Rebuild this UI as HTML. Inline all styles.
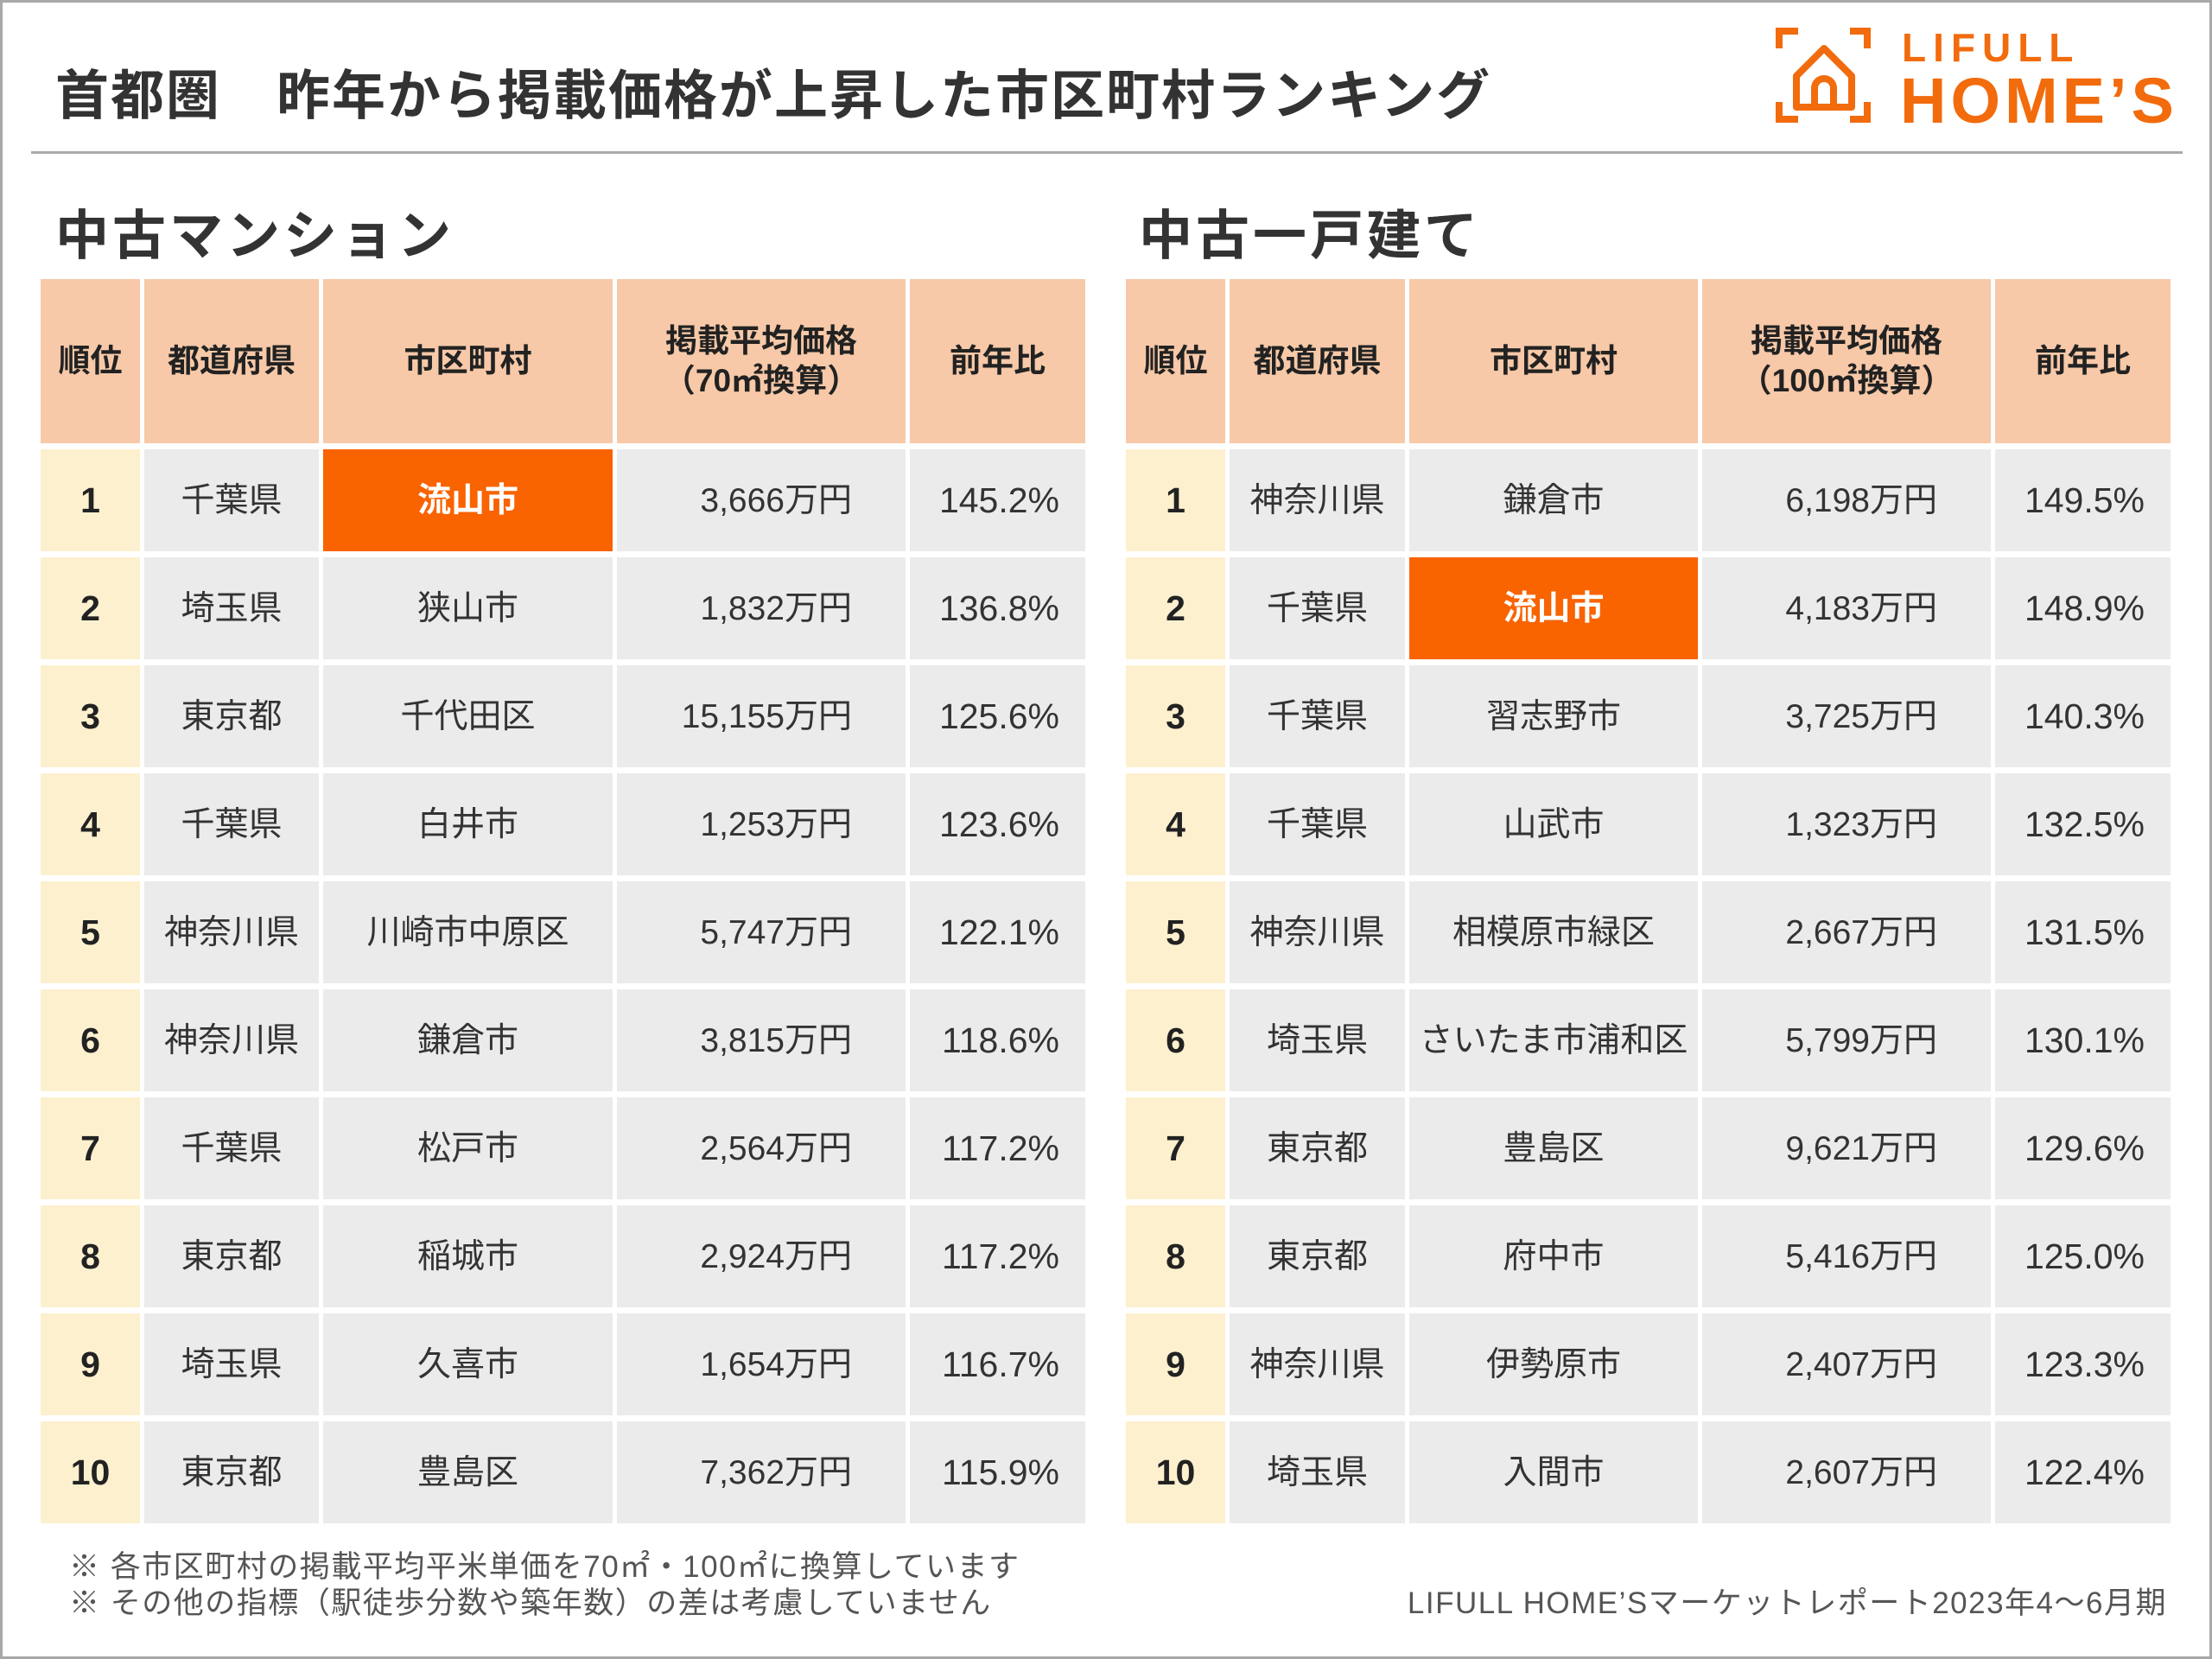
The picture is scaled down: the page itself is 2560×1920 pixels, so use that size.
<!DOCTYPE html>
<html><head><meta charset="utf-8">
<style>
*{margin:0;padding:0;box-sizing:border-box}
body{width:2560px;height:1920px;background:#fff;position:relative;overflow:hidden;font-family:"Liberation Sans","Noto Sans CJK JP",sans-serif;color:#333}
.frame{position:absolute;left:0;top:0;width:2560px;height:1920px;border:3px solid #a8a8a8}
.title{position:absolute;left:64px;top:60px;font-size:62px;font-weight:bold;color:#333;white-space:pre;letter-spacing:2px}
.hr{position:absolute;left:36px;top:175px;width:2490px;height:3px;background:#aaa}
.sec{position:absolute;top:222px;font-size:62px;font-weight:bold;color:#333;letter-spacing:4px}
.tbl{position:absolute;top:323px;display:grid;column-gap:5px;row-gap:7px;grid-template-rows:190px repeat(10,118px)}
.tbl div{display:flex;align-items:center;justify-content:center;font-size:39px;line-height:1;background:#ebebeb;color:#333}
.tbl .h{background:#f7c9a8;font-weight:bold;font-size:37px;text-align:center;line-height:1.25;color:#222}
.tbl .k{background:#fdf0cf;font-weight:bold;font-size:41px;color:#222}
.tbl .p{justify-content:flex-end;padding-right:62px}
.tbl .q{justify-content:flex-end;padding-right:30px;font-size:41px}
.tbl .o{background:#f96300;color:#fff;font-weight:bold}
.fn{position:absolute;font-size:35px;color:#555;white-space:nowrap;letter-spacing:1.5px}
</style></head><body>
<div class="frame"></div>
<div class="title">首都圏　昨年から掲載価格が上昇した市区町村ランキング</div>
<div class="hr"></div>
<svg style="position:absolute;left:2055px;top:32px" width="112" height="112" viewBox="0 0 112 112">
<g fill="none" stroke="#f26b0c" stroke-width="8">
<path d="M4 24V4H26"/><path d="M86 4H106V24"/><path d="M4 86V106H26"/><path d="M86 106H106V86"/>
<path d="M24 92V56L56 24L88 56V92Z" stroke-linejoin="round"/>
<path d="M45 92V70A11 11 0 0 1 67 70V92"/>
</g></svg>
<div style="position:absolute;left:2201px;top:28px;font-size:46px;font-weight:bold;color:#f26b0c;letter-spacing:8px">LIFULL</div>
<div style="position:absolute;left:2199px;top:74px;font-size:74px;font-weight:bold;color:#f26b0c;letter-spacing:5px">HOME’S</div>

<div class="sec" style="left:64px">中古マンション</div>
<div class="sec" style="left:1318px">中古一戸建て</div>

<div class="tbl" style="left:47px;grid-template-columns:115px 202px 335px 334px 203px">
<div class="h">順位</div><div class="h">都道府県</div><div class="h">市区町村</div><div class="h">掲載平均価格<br>（70㎡換算）</div><div class="h">前年比</div>
<div class="k">1</div><div>千葉県</div><div class="o">流山市</div><div class="p">3,666万円</div><div class="q">145.2%</div>
<div class="k">2</div><div>埼玉県</div><div>狭山市</div><div class="p">1,832万円</div><div class="q">136.8%</div>
<div class="k">3</div><div>東京都</div><div>千代田区</div><div class="p">15,155万円</div><div class="q">125.6%</div>
<div class="k">4</div><div>千葉県</div><div>白井市</div><div class="p">1,253万円</div><div class="q">123.6%</div>
<div class="k">5</div><div>神奈川県</div><div>川崎市中原区</div><div class="p">5,747万円</div><div class="q">122.1%</div>
<div class="k">6</div><div>神奈川県</div><div>鎌倉市</div><div class="p">3,815万円</div><div class="q">118.6%</div>
<div class="k">7</div><div>千葉県</div><div>松戸市</div><div class="p">2,564万円</div><div class="q">117.2%</div>
<div class="k">8</div><div>東京都</div><div>稲城市</div><div class="p">2,924万円</div><div class="q">117.2%</div>
<div class="k">9</div><div>埼玉県</div><div>久喜市</div><div class="p">1,654万円</div><div class="q">116.7%</div>
<div class="k">10</div><div>東京都</div><div>豊島区</div><div class="p">7,362万円</div><div class="q">115.9%</div>
</div>

<div class="tbl" style="left:1303px;grid-template-columns:115px 203px 334px 334px 203px">
<div class="h">順位</div><div class="h">都道府県</div><div class="h">市区町村</div><div class="h">掲載平均価格<br>（100㎡換算）</div><div class="h">前年比</div>
<div class="k">1</div><div>神奈川県</div><div>鎌倉市</div><div class="p">6,198万円</div><div class="q">149.5%</div>
<div class="k">2</div><div>千葉県</div><div class="o">流山市</div><div class="p">4,183万円</div><div class="q">148.9%</div>
<div class="k">3</div><div>千葉県</div><div>習志野市</div><div class="p">3,725万円</div><div class="q">140.3%</div>
<div class="k">4</div><div>千葉県</div><div>山武市</div><div class="p">1,323万円</div><div class="q">132.5%</div>
<div class="k">5</div><div>神奈川県</div><div>相模原市緑区</div><div class="p">2,667万円</div><div class="q">131.5%</div>
<div class="k">6</div><div>埼玉県</div><div>さいたま市浦和区</div><div class="p">5,799万円</div><div class="q">130.1%</div>
<div class="k">7</div><div>東京都</div><div>豊島区</div><div class="p">9,621万円</div><div class="q">129.6%</div>
<div class="k">8</div><div>東京都</div><div>府中市</div><div class="p">5,416万円</div><div class="q">125.0%</div>
<div class="k">9</div><div>神奈川県</div><div>伊勢原市</div><div class="p">2,407万円</div><div class="q">123.3%</div>
<div class="k">10</div><div>埼玉県</div><div>入間市</div><div class="p">2,607万円</div><div class="q">122.4%</div>
</div>

<div class="fn" style="left:80px;top:1785px">※ 各市区町村の掲載平均平米単価を70㎡・100㎡に換算しています</div>
<div class="fn" style="left:80px;top:1827px">※ その他の指標（駅徒歩分数や築年数）の差は考慮していません</div>
<div class="fn" style="right:52px;top:1827px">LIFULL HOME’Sマーケットレポート2023年4〜6月期</div>
</body></html>
